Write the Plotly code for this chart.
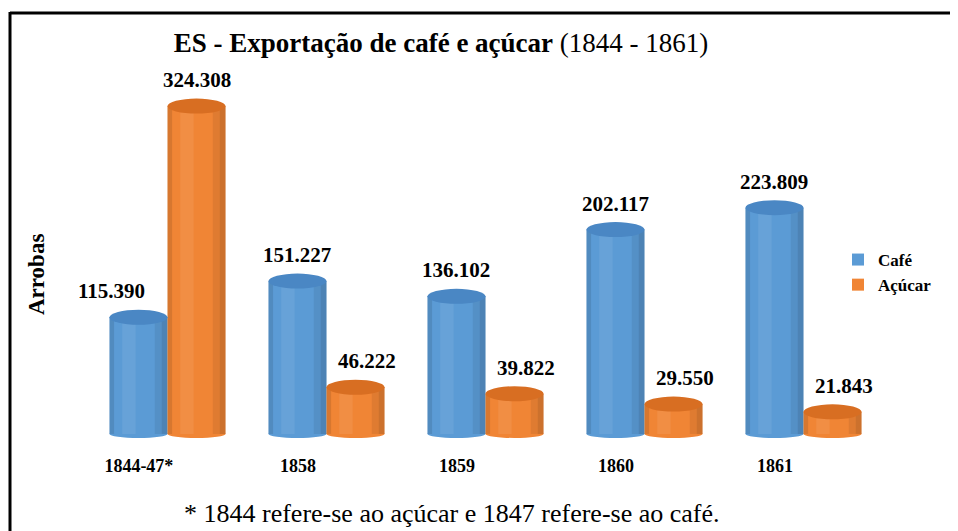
import plotly.graph_objects as go

categories = ["1844-47*", "1858", "1859", "1860", "1861"]
cafe = [115390, 151227, 136102, 202117, 223809]
acucar = [324308, 46222, 39822, 29550, 21843]
series_names = ["Café", "Açúcar"]

title_bold = "ES - Exportação de café e açúcar"
title_plain = "(1844 - 1861)"
y_title = "Arrobas"
footnote = "* 1844 refere-se ao açúcar e 1847 refere-se ao café."

PAGE_OFF = 8  # default body margin of the html page
W, H = 958 - PAGE_OFF, 531 - PAGE_OFF
ML, MR, MT, MB = 80, 75, 62, 93
YMIN, YMAX = -4000, 360000
BARGAP = 0.27
SERIF = "Liberation Serif, Times New Roman, serif"

colors = ["#5B9BD5", "#F08535"]
top_colors = ["#4A87C4", "#D86E22"]

xs = list(range(len(categories)))
fig = go.Figure()
for name, vals, col in zip(series_names, [cafe, acucar], colors):
    fig.add_trace(go.Bar(
        x=xs, y=vals, name=name,
        marker=dict(color=col, line=dict(width=0)),
        hoverinfo="y+name",
    ))

plot_w = W - ML - MR
plot_h = H - MT - MB
units_per_px = (YMAX - YMIN) / plot_h

def px_to_paper_x(px):  # px in reference-screen coordinates
    return (px - PAGE_OFF - ML) / plot_w

def px_to_paper_y(py):
    return (H - MB - (py - PAGE_OFF)) / plot_h

bar_w = (1 - BARGAP) / 2
h_top = 7.5 * units_per_px
h_bot = 4.0 * units_per_px
shapes = []
annotations = []
for s, vals in enumerate([cafe, acucar]):
    for i, v in enumerate(vals):
        x0 = i - (1 - BARGAP) / 2 + s * bar_w
        x1 = x0 + bar_w
        shapes.append(dict(type="circle", xref="x", yref="y", layer="below",
                           x0=x0, x1=x1, y0=-h_bot, y1=h_bot,
                           fillcolor=colors[s], line=dict(width=0)))
        # cylinder shading bands
        for a, b, alpha in [(0.0, 0.08, 0.10), (0.78, 0.90, 0.07), (0.90, 1.0, 0.15)]:
            shapes.append(dict(type="rect", xref="x", yref="y", layer="above",
                               x0=x0 + a * bar_w, x1=x0 + b * bar_w, y0=0, y1=v,
                               fillcolor=f"rgba(0,0,0,{alpha})", line=dict(width=0)))
        shapes.append(dict(type="rect", xref="x", yref="y", layer="above",
                           x0=x0 + 0.22 * bar_w, x1=x0 + 0.45 * bar_w, y0=0, y1=v,
                           fillcolor="rgba(255,255,255,0.08)", line=dict(width=0)))
        shapes.append(dict(type="circle", xref="x", yref="y", layer="above",
                           x0=x0, x1=x1, y0=v - h_top, y1=v + h_top,
                           fillcolor=top_colors[s], line=dict(width=0)))
        label = f"{v:,}".replace(",", ".")
        dx = -0.17 if (s == 0 and i == 0) else (0.07 if (s == 1 and i > 0) else 0)
        annotations.append(dict(
            x=(x0 + x1) / 2 + dx, y=v, xref="x", yref="y",
            xanchor="center", yanchor="bottom", yshift=12,
            text=f"<b>{label}</b>", showarrow=False,
            font=dict(family=SERIF, size=21, color="black")))

# frame lines (top and left)
shapes.append(dict(type="line", xref="paper", yref="paper",
                   x0=px_to_paper_x(10), x1=px_to_paper_x(975),
                   y0=px_to_paper_y(13), y1=px_to_paper_y(13),
                   line=dict(color="black", width=3)))
shapes.append(dict(type="line", xref="paper", yref="paper",
                   x0=px_to_paper_x(10), x1=px_to_paper_x(10),
                   y0=px_to_paper_y(12), y1=px_to_paper_y(560),
                   line=dict(color="black", width=3)))

annotations.append(dict(
    xref="paper", yref="paper", x=px_to_paper_x(36), y=px_to_paper_y(275),
    xanchor="center", yanchor="middle",
    text=f"<b>{y_title}</b>", textangle=-90, showarrow=False,
    font=dict(family=SERIF, size=23, color="black")))
annotations.append(dict(
    xref="paper", yref="paper", x=px_to_paper_x(452), y=px_to_paper_y(513),
    xanchor="center", yanchor="middle",
    text=footnote, showarrow=False,
    font=dict(family=SERIF, size=26, color="black")))

fig.update_layout(
    width=W, height=H,
    margin=dict(l=ML, r=MR, t=MT, b=MB),
    paper_bgcolor="white", plot_bgcolor="white",
    barmode="group", bargap=BARGAP, bargroupgap=0,
    separators=",.",
    title=dict(text=f"<b>{title_bold}</b> {title_plain}",
               xref="container", yref="container",
               x=(441 - PAGE_OFF) / W, y=1 - (43 - PAGE_OFF) / H,
               xanchor="center", yanchor="middle",
               font=dict(family=SERIF, size=27, color="black")),
    xaxis=dict(range=[-0.5, len(categories) - 0.5],
               tickvals=[i - 0.18 for i in xs],
               ticktext=[f"<b>{c}</b>" for c in categories],
               showgrid=False, zeroline=False, showline=False, ticks="",
               ticklabelstandoff=15,
               tickfont=dict(family=SERIF, size=18, color="black")),
    yaxis=dict(range=[YMIN, YMAX], showgrid=False, zeroline=False,
               showline=False, showticklabels=False, ticks=""),
    legend=dict(x=px_to_paper_x(838), y=px_to_paper_y(242),
                xanchor="left", yanchor="top",
                font=dict(family=SERIF, size=17, color="black", weight="bold"),
                bgcolor="rgba(0,0,0,0)", tracegroupgap=0, itemwidth=30),
    shapes=shapes,
    annotations=annotations,
)

fig.write_html("out.html")
